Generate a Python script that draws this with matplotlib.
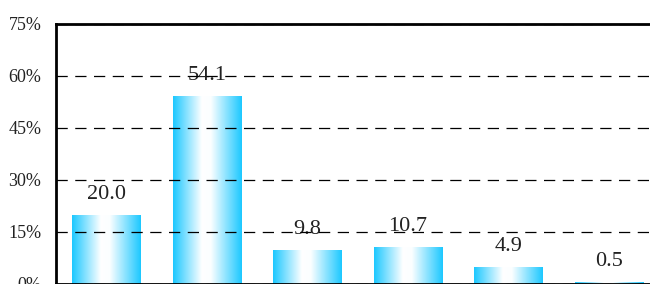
import numpy as np
import matplotlib.pyplot as plt
from matplotlib.colors import LinearSegmentedColormap
from matplotlib.patches import Rectangle

# share of responses per category (%)
categories = ["A", "B", "C", "D", "E", "F"]
values = [20.0, 54.1, 9.8, 10.7, 4.9, 0.5]
yticks = [0, 15, 30, 45, 60, 75]
ytick_labels = ["0%", "15%", "30%", "45%", "60%", "75%"]

plt.rcParams["font.family"] = ["Liberation Serif", "DejaVu Serif"]

cmap = LinearSegmentedColormap.from_list(
    "barfill", [(0.0, "#1cc8ff"), (0.42, "#ffffff"), (0.55, "#fbfeff"),
                (1.0, "#1cc8ff")])
grad = np.linspace(0, 1, 256)[None, :]

fig = plt.figure(figsize=(6.5, 2.84), dpi=100)
ax = fig.add_axes([56 / 650, 0.0, 603 / 650, 260 / 284])

x = np.arange(len(values))
width = 0.68
bars = ax.bar(x, values, width=width, color="none", edgecolor="none", zorder=2)
for b, v in zip(bars, values):
    x0 = b.get_x()
    im = ax.imshow(grad, cmap=cmap, aspect="auto", extent=(x0, x0 + width, 0, v),
                   zorder=2)
    im.set_clip_path(Rectangle((x0, 0), width, v, transform=ax.transData))
    ax.annotate(f"{v:.1f}", (b.get_x() + width / 2, v), xytext=(0, 8),
                textcoords="offset points", ha="center", va="bottom",
                fontsize=16, color="#222222", zorder=1)

ax.set_xlim(-0.5, len(values) - 0.5)
ax.set_ylim(0, 75)
ax.set_xticks([])
ax.set_yticks(yticks)
ax.set_yticklabels(ytick_labels, fontsize=13, color="#222222")
ax.tick_params(axis="y", length=0, pad=10.5)
ax.yaxis.grid(True, color="black", linestyle=(0, (9, 6)), linewidth=0.9, zorder=3)
ax.set_axisbelow(False)
for s in ("left", "top", "bottom"):
    ax.spines[s].set_linewidth(2)
ax.spines["right"].set_visible(False)

fig.savefig("out.png", dpi=100)
